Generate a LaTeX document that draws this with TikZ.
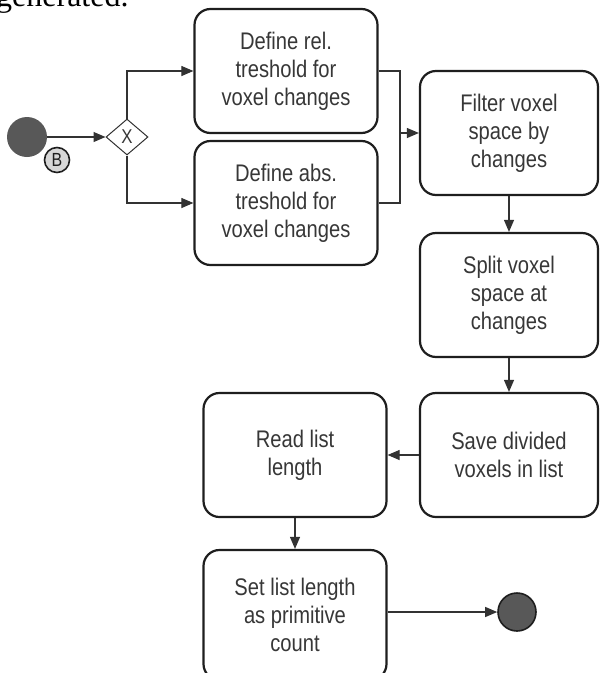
\documentclass[tikz,border=0pt]{standalone}
\usepackage{fontspec}
\setmainfont{Liberation Serif}
\newfontfamily\boxfont{Liberation Sans}[FakeStretch=0.84]
\usetikzlibrary{positioning,arrows.meta,shapes.geometric}
\definecolor{bpLine}{RGB}{30,30,30}
\definecolor{bpText}{RGB}{55,55,55}
\definecolor{bpFill}{RGB}{88,88,88}
\definecolor{bpFlow}{RGB}{50,50,50}
\definecolor{bpTag}{RGB}{215,215,215}
\tikzset{
    base/.style={font=\boxfont\fontsize{24}{28}\selectfont, align=center, text=bpText},
    activity/.style={base, rectangle, rounded corners=16pt, draw=bpLine, line width=2.2pt,
                     fill=white, minimum width=183pt, minimum height=124pt, inner sep=0pt},
    gateway/.style={base, diamond, draw=bpFlow, line width=1pt, fill=white,
                    minimum width=42pt, minimum height=36pt, inner sep=0pt,
                    font=\boxfont\fontsize{20}{20}\selectfont},
    startev/.style={circle, fill=bpFill, minimum size=40pt, inner sep=0pt},
    endev/.style={circle, fill=bpFill, draw=bpLine, line width=1.6pt, minimum size=38pt, inner sep=0pt},
    tag/.style={circle, fill=bpTag, draw=bpLine, line width=1.6pt, minimum size=25pt, inner sep=0pt,
                font=\boxfont\fontsize{19}{19}\selectfont, text=bpLine},
    flow/.style={-{Triangle[length=12pt,width=10pt]}, line width=1.1pt, color=bpFlow},
    link/.style={line width=1.1pt, color=bpFlow}
}

\begin{document}
\begin{tikzpicture}[x=1pt, y=-1pt]
    \useasboundingbox (0,0) rectangle (600,673);
    \clip (0,0) rectangle (600,673);

    % Page text cut off above the figure
    \node[anchor=base west, font=\fontsize{32}{32}\selectfont, inner sep=0pt] (pagetext) at (-4,6) {generated.};

    % Start event and gateway
    \node[startev] (start) at (27,137) {};
    \node[tag] (startTag) at (57,160) {B};
    \node[gateway] (gw) at (127,137) {X};

    % Activities
    \node[activity] (defRel) at (286,71) {Define rel.\\treshold for\\voxel changes};
    \node[activity] (defAbs) at (286,203) {Define abs.\\treshold for\\voxel changes};
    \node[activity, minimum width=178pt] (filter) at (509,133) {Filter voxel\\space by\\changes};
    \node[activity, minimum width=178pt] (split) at (509,295) {Split voxel\\space at\\changes};
    \node[activity, minimum width=178pt] (save) at (509,455) {Save divided\\voxels in list};
    \node[activity] (read) at (295,455) {Read list\\length};
    \node[activity, minimum height=130pt] (set) at (295,615) {Set list length\\as primitive\\count};

    % End event
    \node[endev] (finish) at (517,612) {};

    % Flows
    \coordinate (join) at (400,133);
    \draw[flow] (start) -- (gw);
    \draw[flow] (gw.north) |- (defRel);
    \draw[flow] (gw.south) |- (defAbs);
    \draw[link] (defRel) -| (join);
    \draw[link] (defAbs) -| (join);
    \draw[flow] (join) -- (filter);
    \draw[flow] (filter) -- (split);
    \draw[flow] (split) -- (save);
    \draw[flow] (save) -- (read);
    \draw[flow] (read) -- (set);
    \draw[flow] (set.east |- finish) -- (finish);
\end{tikzpicture}
\end{document}
